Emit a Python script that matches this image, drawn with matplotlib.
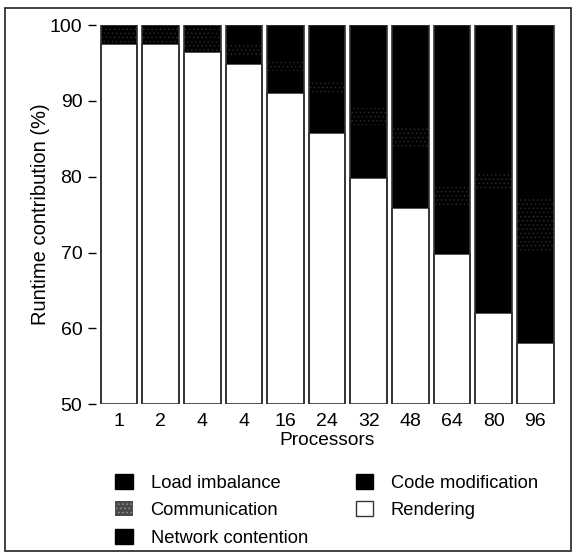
import matplotlib
matplotlib.use('Agg')
import matplotlib.pyplot as plt
from matplotlib.patches import Patch, Rectangle
import numpy as np

plt.rcParams['font.family'] = ['Liberation Sans', 'DejaVu Sans']
plt.rcParams['hatch.linewidth'] = 0.5

# veriler (alttan üste doğru yığılı)
processors = ['1', '2', '4', '4', '16', '24', '32', '48', '64', '80', '96']
rendering = [97.5, 97.5, 96.4, 94.9, 91.0, 85.8, 79.8, 75.9, 69.8, 62.0, 58.1]
code_modification = [0.0, 0.0, 0.0, 1.0, 3.0, 5.0, 7.0, 8.0, 6.2, 16.5, 11.9]
communication = [2.5, 2.5, 3.6, 1.5, 1.5, 2.0, 2.2, 2.6, 2.7, 2.0, 7.0]
network_contention = [0.0, 0.0, 0.0, 1.0, 2.5, 4.2, 6.0, 7.5, 11.3, 10.5, 13.0]
load_imbalance = [0.0, 0.0, 0.0, 1.6, 2.0, 3.0, 5.0, 6.0, 10.0, 9.0, 10.0]

fig = plt.figure(figsize=(5.76, 5.56), dpi=100)
ax = fig.add_axes([0.167, 0.273, 0.802, 0.682])

x = np.arange(len(processors))
w = 0.88
edge = '#333333'

alt = np.array(rendering)
ax.bar(x, rendering, w, color='white', edgecolor=edge, linewidth=1.2)
ax.bar(x, code_modification, w, bottom=alt, color='black', linewidth=0)
alt = alt + np.array(code_modification)
ax.bar(x, communication, w, bottom=alt, color='black', edgecolor='#2e2e2e',
       hatch='....', linewidth=0)
alt = alt + np.array(communication)
ax.bar(x, network_contention, w, bottom=alt, color='black', linewidth=0)
alt = alt + np.array(network_contention)
ax.bar(x, load_imbalance, w, bottom=alt, color='black', linewidth=0)
alt = alt + np.array(load_imbalance)

# çubukların dış çerçevesi
for xi, top in zip(x, alt):
    ax.add_patch(Rectangle((xi - w / 2, 50), w, top - 50, fill=False,
                           edgecolor=edge, linewidth=1.2, zorder=3))

ax.set_ylim(50, 100)
ax.set_xlim(-0.55, len(processors) - 0.45)
ax.set_yticks([50, 60, 70, 80, 90, 100])
ax.set_xticks(x)
ax.set_xticklabels(processors)
ax.tick_params(axis='x', length=0, pad=6.5, labelsize=14)
ax.tick_params(axis='y', length=6, width=1, pad=4, labelsize=14)
for s in ax.spines.values():
    s.set_visible(False)
ax.set_xlabel('Processors', fontsize=13.8, labelpad=1.5)
ax.set_ylabel('Runtime contribution (%)', fontsize=14.5, labelpad=0)

handles = [
    Patch(facecolor='black', edgecolor='black', label='Load imbalance'),
    Patch(facecolor='#4a4a4a', edgecolor='#9a9a9a', hatch='....', linewidth=0,
          label='Communication'),
    Patch(facecolor='black', edgecolor='black', label='Network contention'),
    Patch(facecolor='black', edgecolor='black', label='Code modification'),
    Patch(facecolor='white', edgecolor='#333333', label='Rendering'),
]
fig.legend(handles=handles, ncol=2, loc='upper left', bbox_to_anchor=(0.2, 0.148),
           frameon=False, fontsize=13.2, borderpad=0, handlelength=0.98,
           handleheight=0.9, handletextpad=0.95, labelspacing=0.52,
           columnspacing=2.6, borderaxespad=0)

fig.add_artist(Rectangle((0.009, 0.009), 0.982, 0.977, transform=fig.transFigure,
                         fill=False, edgecolor='#333333', linewidth=1.3))

fig.savefig('out.png', dpi=100)
